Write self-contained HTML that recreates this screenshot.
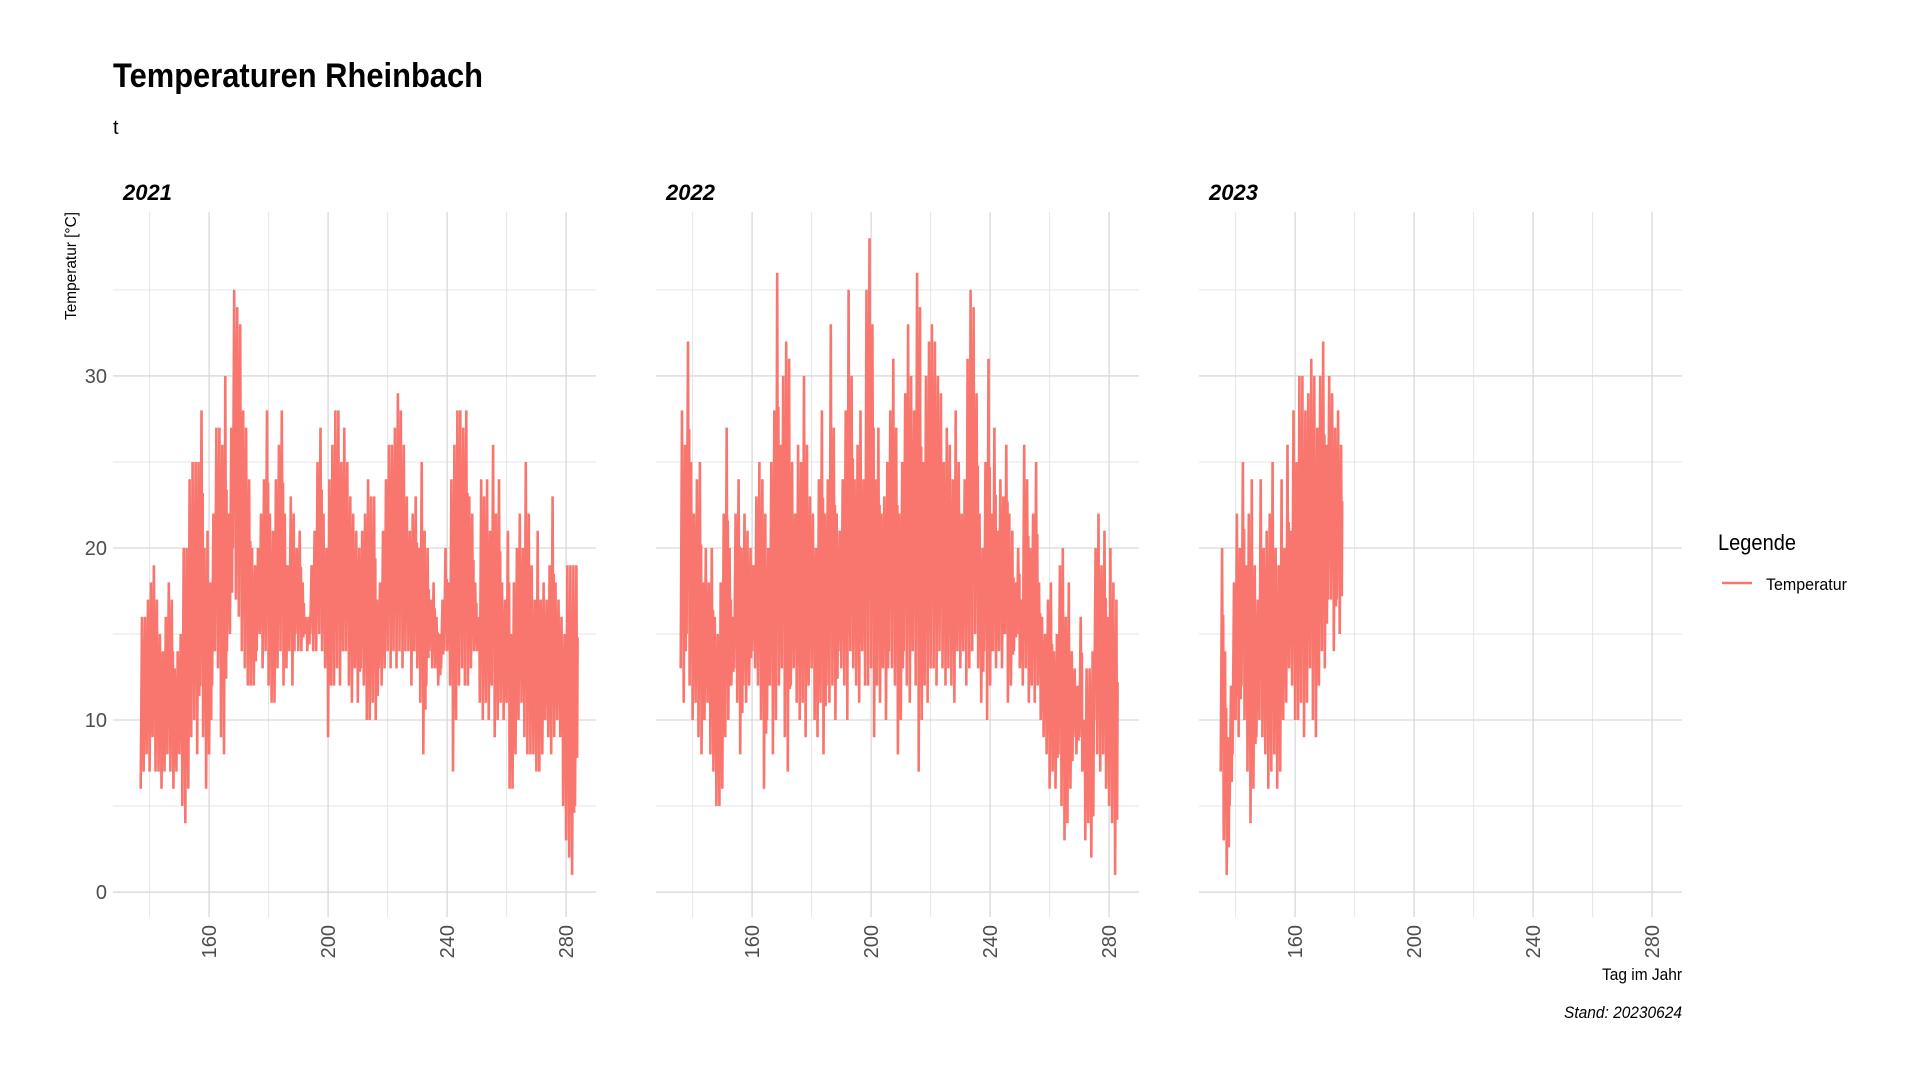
<!DOCTYPE html>
<html><head><meta charset="utf-8">
<style>
html,body{margin:0;padding:0;background:#fff;}
svg{display:block;font-family:"Liberation Sans Narrow","Liberation Sans",sans-serif;}
</style></head>
<body>
<svg id="chart" width="1920" height="1080" viewBox="0 0 1920 1080">
<text x="113" y="87" font-size="34" font-weight="bold" fill="#000" textLength="370" lengthAdjust="spacingAndGlyphs">Temperaturen Rheinbach</text>
<text x="113" y="134" font-size="20" fill="#000">t</text>
<text transform="translate(76,266) rotate(-90)" text-anchor="middle" font-size="16" fill="#000" textLength="108" lengthAdjust="spacingAndGlyphs">Temperatur [°C]</text>
<text x="1682" y="980" text-anchor="end" font-size="17" fill="#000" textLength="80" lengthAdjust="spacingAndGlyphs">Tag im Jahr</text>
<text x="1682" y="1018" text-anchor="end" font-size="17" font-style="italic" fill="#000" textLength="118" lengthAdjust="spacingAndGlyphs">Stand: 20230624</text>
<g>
<text x="1718" y="550" font-size="22" fill="#000" textLength="78" lengthAdjust="spacingAndGlyphs">Legende</text>
<line x1="1722" y1="583" x2="1752" y2="583" stroke="#F8766D" stroke-width="2.5"/>
<text x="1766" y="590" font-size="17" fill="#000" textLength="81" lengthAdjust="spacingAndGlyphs">Temperatur</text>
</g>
<g id="panels"></g>
</svg>
<script>
const years = ["2021","2022","2023"];
const startDays = [137, 136, 135];
const max2021 = [16,16,17,18,19,17,15,14,16,18,17,13,14,15,
20,20,24,25,25,25,28,20,21,18,
22,27,27,26,30,22,27,35,34,33,
28,27,24,20,19,20,22,24,28,22,
21,24,26,28,22,19,23,22,20,21,
18,16,16,19,21,25,27,22,20,24,
26,28,28,25,27,25,23,22,21,20,
21,22,24,23,23,17,18,21,24,26,
26,27,29,28,26,23,21,22,23,20,
25,21,20,17,18,16,15,17,20,18,
24,26,28,28,27,28,23,22,18,16,
24,23,24,21,26,22,24,18,17,21,
15,18,20,22,20,25,22,19,17,21,
17,18,17,19,23,18,17,16,15,19,19,19,19];
const min2021 = [6,7,8,7,9,7,7,6,7,8,7,6,7,8,
5,4,6,9,10,8,12,9,6,8,
12,14,13,9,8,14,15,20,17,16,
14,13,12,12,12,14,15,13,14,12,
11,11,13,14,12,13,14,12,15,14,
14,15,14,15,14,14,15,14,13,9,
12,12,13,12,14,14,12,11,13,11,
13,12,10,10,11,10,13,12,13,14,
13,14,13,14,13,14,14,12,14,13,
11,8,12,14,13,13,12,13,14,14,
12,7,10,12,13,12,12,13,14,14,
11,10,11,10,12,9,10,11,10,11,
6,6,8,10,11,9,8,8,8,7,
7,8,10,9,8,9,10,9,5,3,2,1,5];
const max2022 = [28,26,32,25,22,24,25,18,20,18,
20,16,15,18,22,27,20,16,22,24,
20,22,21,20,19,23,25,24,22,20,
25,28,36,26,30,32,31,25,22,26,
25,30,26,23,22,20,24,28,22,24,
33,27,22,21,24,28,35,30,24,26,
28,24,35,38,33,24,27,22,23,25,
28,31,27,22,25,29,33,30,28,36,
34,25,30,32,33,32,30,29,25,27,
26,24,28,25,22,24,31,35,34,29,
22,20,25,31,22,27,21,24,23,26,
22,21,18,20,17,26,24,20,22,25,
18,16,15,17,18,14,15,19,20,16,
18,14,13,12,16,10,13,13,14,20,
22,19,21,16,20,18,17];
const min2022 = [13,11,15,12,10,11,9,8,10,11,
8,7,5,5,6,9,10,12,13,11,
8,12,11,12,14,13,12,10,6,10,
12,8,10,12,13,9,7,12,13,11,
10,11,9,12,13,10,9,11,8,12,
11,12,10,14,13,12,10,14,13,12,
11,14,12,12,13,9,12,11,13,10,
14,13,12,8,10,14,12,11,14,12,
7,10,12,11,13,13,12,14,13,12,
13,12,11,14,13,14,12,13,14,15,
13,11,14,10,12,14,13,14,13,15,
11,12,14,15,13,12,13,11,12,11,
12,10,9,8,6,7,6,8,5,3,
4,6,9,8,9,7,3,4,2,10,
8,7,8,6,5,4,1];
const max2023 = [20,14,9,12,18,22,20,25,19,22,
24,19,17,24,20,21,22,25,20,19,
24,20,26,21,28,25,30,30,28,29,
31,30,27,30,32,26,30,29,27,28,26];
const min2023 = [7,3,1,5,8,10,9,12,10,7,
4,6,9,10,9,8,6,7,8,6,
7,10,11,13,12,10,10,11,9,11,
13,10,9,12,14,13,17,17,14,17,15];
const xTicks = [160,200,240,280];
const xMinor = [140,180,220,260];
const yTicks = [0,10,20,30];
const yMinor = [5,15,25,35];

const maxSeries=[max2021,max2022,max2023], minSeries=[min2021,min2022,min2023];
const NS="http://www.w3.org/2000/svg";
const root=document.getElementById('panels');
const panelLeft=[113,656,1199], panelW=483, pTop=212, pBottom=917;
const dMin=127.7, dMax=290.05, tMin=-1.45, tMax=39.53;
function mk(tag,attrs,parent){const e=document.createElementNS(NS,tag);for(const k in attrs)e.setAttribute(k,attrs[k]);parent.appendChild(e);return e;}
function yS(v){return pBottom-(v-tMin)/(tMax-tMin)*(pBottom-pTop);}
years.forEach((yr,p)=>{
  const L=panelLeft[p];
  const xS=d=>L+(d-dMin)/(dMax-dMin)*panelW;
  const g=mk('g',{},root);
  
  
  yMinor.forEach(v=>{const l=mk('line',{x1:L,x2:L+panelW,y1:yS(v),y2:yS(v),stroke:'#e6e6e6','stroke-width':1},g);
    
    });
  xMinor.forEach(v=>{const l=mk('line',{x1:xS(v),x2:xS(v),y1:pTop,y2:pBottom,stroke:'#e6e6e6','stroke-width':1},g);
    
    });
  yTicks.forEach(v=>{const l=mk('line',{x1:L,x2:L+panelW,y1:yS(v),y2:yS(v),stroke:'#d9d9d9','stroke-width':1.3},g);
    
    
    if(p===0){const t=mk('text',{x:107,y:yS(v)+7,'text-anchor':'end','font-size':20,fill:'#4d4d4d'},g);t.textContent=v;
      
      }});
  xTicks.forEach(v=>{const l=mk('line',{x1:xS(v),x2:xS(v),y1:pTop,y2:pBottom,stroke:'#d9d9d9','stroke-width':1.3},g);
    
    
    const t=mk('text',{transform:'translate('+(xS(v)+7)+',925) rotate(-90)','text-anchor':'end','font-size':20,fill:'#4d4d4d'},g);t.textContent=v;
    
    });
  const s=mk('text',{x:L+10,y:200,'font-size':22,'font-weight':'bold','font-style':'italic',fill:'#000'},g);s.textContent=yr;
  
  
  const mx=maxSeries[p], mn=minSeries[p], sd=startDays[p];
  let d='';
  for(let i=0;i<mx.length;i++){
    const day=sd+i;
    d+=(i===0?'M':'L')+xS(day).toFixed(1)+','+yS(mn[i]).toFixed(1);
    d+='L'+xS(day+0.45).toFixed(1)+','+yS(mx[i]).toFixed(1);
    const mid=(mx[i]+mn[i])/2;
    d+='L'+xS(day+0.7).toFixed(1)+','+yS(mid-(mx[i]-mn[i])*0.3).toFixed(1);
    d+='L'+xS(day+0.85).toFixed(1)+','+yS(mid+(mx[i]-mn[i])*0.2).toFixed(1);
  }
  const path=mk('path',{d:d,fill:'none',stroke:'#F8766D','stroke-width':2.6,'stroke-linejoin':'miter'},g);
  
  
});
</script>
</body></html>
